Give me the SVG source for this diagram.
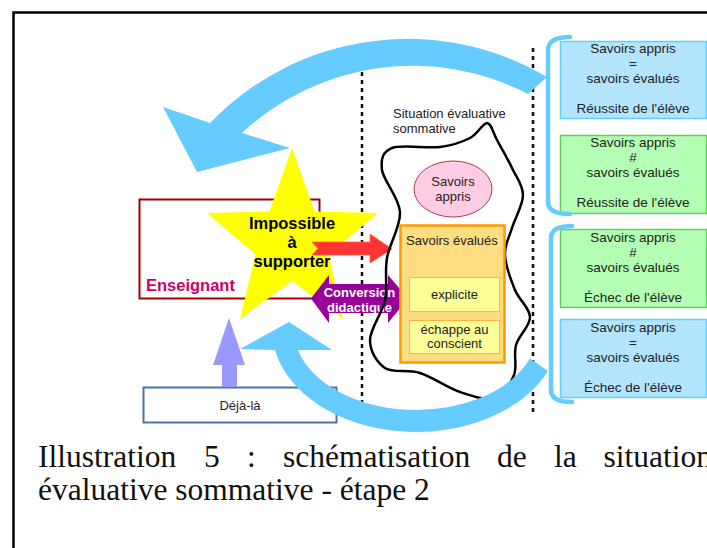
<svg xmlns="http://www.w3.org/2000/svg" width="707" height="548" viewBox="0 0 707 548">
<style>
.t{font-family:"Liberation Sans",Arial,sans-serif;fill:#222}
.c{text-anchor:middle}
.cap{font-family:"Liberation Serif","Times New Roman",serif;font-size:31.5px;fill:#111}
.dot{stroke:#111;stroke-width:2.5;stroke-dasharray:4 4;fill:none}
.rb{font-size:13.5px}
.brace{fill:none;stroke:#66ccff;stroke-width:4.5;stroke-linecap:round}
</style>
<rect x="0" y="0" width="707" height="548" fill="#fff"/>
<rect x="13.5" y="12.5" width="800" height="600" fill="none" stroke="#000" stroke-width="2.5"/>

<g id="separators">
<line class="dot" x1="362" y1="48" x2="362" y2="414"/>
<line class="dot" x1="533" y1="48" x2="533" y2="416"/>
</g>

<g id="connectors">
<path id="arrow-top" d="M547,77 A274,274 0 0 0 210,123 L163,107 L197,172 L290,148 L242,133 A250,250 0 0 1 528,94 Z" fill="#66ccff"/>
</g>

<g id="enseignant">
<rect x="139.5" y="199.5" width="180" height="99" fill="#fff" stroke="#a00000" stroke-width="2"/>
<text x="146" y="291" class="t" style="font-size:16.5px;font-weight:bold;fill:#cc0066">Enseignant</text>
</g>

<g id="star">
<path d="M292,148 L314.6,211.4 L378,213 L328.6,254.4 L343,319 L292,281 L240,319 L255.4,254.4 L207,213 L269.4,211.4 Z" fill="#ffff00"/>
</g>

<g id="red-arrow">
<path d="M312,242 L370,242 L370,234 L392,249 L370,263 L370,255 L312,255 L318,248.5 Z" fill="#ff3333" stroke="#ff6a33" stroke-width="0.8"/>
</g>

<g id="star-text">
<text class="t c" x="292" y="229" style="font-size:16.5px;font-weight:bold;fill:#000">Impossible</text>
<text class="t c" x="292" y="248" style="font-size:16.5px;font-weight:bold;fill:#000">à</text>
<text class="t c" x="292" y="267" style="font-size:16.5px;font-weight:bold;fill:#000">supporter</text>
</g>

<g id="conversion">
<path d="M311,298.5 L329,275 L329,284 L388,284 L388,275 L408,298.5 L388,323 L388,313 L329,313 L329,323 Z" fill="#990099"/>
<text class="t c" x="359.5" y="297" style="font-size:13px;font-weight:bold;fill:#fff">Conversion</text>
<text class="t c" x="359.5" y="312" style="font-size:13px;font-weight:bold;fill:#fff">didactique</text>
</g>

<g id="situation">
<text class="t" x="393" y="118" style="font-size:13px">Situation évaluative</text>
<text class="t" x="393" y="133" style="font-size:13px">sommative</text>
<path d="M487,123 C491.5,123.3 492.8,132.5 497,140 C501.2,147.5 507.7,158.8 512,168 C516.3,177.2 523,185 523,195 C523,205 515,218 512,228 C509,238 504.5,244.7 505,255 C505.5,265.3 510.8,279.7 515,290 C519.2,300.3 529.8,307.8 530,317 C530.2,326.2 518.7,335.3 516,345 C513.3,354.7 517.5,366.2 514,375 C510.5,383.8 504,395.2 495,398 C486,400.8 472.5,396.2 460,392 C447.5,387.8 432.5,377 420,373 C407.5,369 393.3,373.5 385,368 C376.7,362.5 370,351.3 370,340 C370,328.7 382.2,313.7 385,300 C387.8,286.3 384.5,272.7 387,258 C389.5,243.3 400.8,226.7 400,212 C399.2,197.3 383.3,180.7 382,170 C380.7,159.3 382.3,151.8 392,148 C401.7,144.2 427,148.7 440,147 C453,145.3 462.2,142 470,138 C477.8,134 482.5,123.3 487,123 Z" fill="none" stroke="#000" stroke-width="2.5"/>
</g>

<g id="savoirs-appris">
<ellipse cx="453" cy="189" rx="39" ry="28" fill="#ffcce6" stroke="#b03a4a" stroke-width="1"/>
<text class="t c" x="453" y="186" style="font-size:13px">Savoirs</text>
<text class="t c" x="453" y="201" style="font-size:13px">appris</text>
</g>

<g id="savoirs-evalues">
<rect x="400.5" y="225.5" width="104" height="137" fill="#ffdd80" stroke="#ff9900" stroke-width="2.5"/>
<text class="t" x="406" y="245" style="font-size:13px">Savoirs évalués</text>
<rect x="409.5" y="277.5" width="90" height="34" fill="#ffff99" stroke="#ffb340" stroke-width="1"/>
<text class="t c" x="454.5" y="299" style="font-size:13px">explicite</text>
<rect x="409.5" y="320.5" width="90" height="33" fill="#ffff99" stroke="#ffb340" stroke-width="1"/>
<text class="t c" x="454.5" y="334" style="font-size:13px">échappe au</text>
<text class="t c" x="454.5" y="348" style="font-size:13px">conscient</text>
</g>

<g id="res1">
<rect x="560.5" y="41.5" width="146" height="77" fill="#b3e5ff" stroke="#66ccff" stroke-width="1.5"/>
<text class="t c rb" x="633" y="53">Savoirs appris</text>
<text class="t c rb" x="633" y="68">=</text>
<text class="t c rb" x="633" y="83">savoirs évalués</text>
<text class="t c rb" x="633" y="113">Réussite de l'élève</text>
</g>
<g id="res2">
<rect x="560.5" y="135.5" width="146" height="78" fill="#b3ffb3" stroke="#66cc66" stroke-width="1.5"/>
<text class="t c rb" x="633" y="147">Savoirs appris</text>
<text class="t c rb" x="633" y="162">#</text>
<text class="t c rb" x="633" y="177">savoirs évalués</text>
<text class="t c rb" x="633" y="207">Réussite de l'élève</text>
</g>
<g id="res3">
<rect x="560.5" y="229.5" width="146" height="78" fill="#b3ffb3" stroke="#66cc66" stroke-width="1.5"/>
<text class="t c rb" x="633" y="242">Savoirs appris</text>
<text class="t c rb" x="633" y="257">#</text>
<text class="t c rb" x="633" y="272">savoirs évalués</text>
<text class="t c rb" x="633" y="302">Échec de l'élève</text>
</g>
<g id="res4">
<rect x="560.5" y="319.5" width="146" height="78" fill="#b3e5ff" stroke="#66ccff" stroke-width="1.5"/>
<text class="t c rb" x="633" y="332">Savoirs appris</text>
<text class="t c rb" x="633" y="347">=</text>
<text class="t c rb" x="633" y="362">savoirs évalués</text>
<text class="t c rb" x="633" y="392">Échec de l'élève</text>
</g>

<g id="braces">
<path class="brace" d="M570,37 Q548,37 548,50 L548,202 Q548,214 570,214"/>
<path class="brace" d="M572,226 Q551,226 551,238 L551,390 Q551,402 572,402"/>
</g>

<g id="deja-la">
<rect x="143.5" y="387.5" width="193" height="35" fill="#fff" stroke="#4a72b0" stroke-width="2"/>
<text class="t c" x="240" y="410" style="font-size:13px">Déjà-là</text>
</g>

<g id="connectors2">
<path id="arrow-bottom" d="M530,358.5 A122,80 0 0 1 298,350 L332,350 L289,322 L240,349 L275,350 A144,102 0 0 0 548,371 Z" fill="#66ccff"/>
<path id="arrow-up" d="M222,387 L222,365 L213,365 L229,318 L245,365 L237,365 L237,387 Z" fill="#9999ff"/>
</g>

<g id="caption">
<text class="cap" y="467"><tspan x="38">Illustration</tspan><tspan x="204">5</tspan><tspan x="247">:</tspan><tspan x="283">schématisation</tspan><tspan x="497">de</tspan><tspan x="554">la</tspan><tspan x="603.5">situation</tspan></text>
<text class="cap" x="38" y="500">évaluative sommative - étape 2</text>
</g>
</svg>
